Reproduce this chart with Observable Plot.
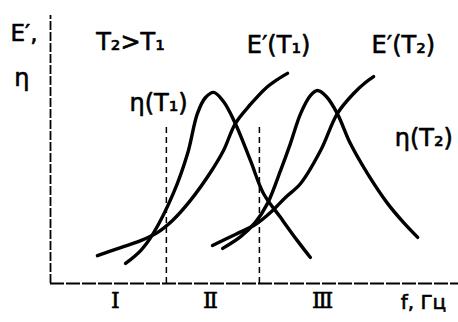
<!DOCTYPE html>
<html>
<head>
<meta charset="utf-8">
<script src="https://cdn.jsdelivr.net/npm/d3@7"></script>
<script src="https://cdn.jsdelivr.net/npm/@observablehq/plot@0.6"></script>
<style>
  html, body { margin: 0; padding: 0; background: #fff; }
  #chart { width: 458px; height: 322px; }
</style>
</head>
<body>
<div id="chart"></div>
<script>
// Curves (arbitrary units: x = frequency, y = E' / η)
const etaT1X = [18.4, 22.1, 25.2, 30.1, 33.6, 36.0, 38.0, 40.0, 42.4, 45.3, 49.0, 52.2, 56.4, 60.5, 63.7];
const etaT1Y = [7.5, 12.3, 18.7, 33.6, 48.5, 63.4, 69.4, 71.3, 67.9, 59.7, 45.9, 33.6, 24.6, 16.0, 9.7];

const ET1X = [11.5, 17.2, 22.1, 26.2, 29.9, 34.3, 39.2, 42.4, 45.3, 49.0, 52.7, 55.6, 58.1];
const ET1Y = [10.4, 13.4, 16.0, 19.0, 23.5, 31.0, 41.4, 49.6, 59.7, 66.8, 72.8, 76.1, 78.4];

const etaT2X = [42.2, 46.6, 50.2, 53.2, 56.4, 58.8, 61.3, 63.7, 65.4, 67.6, 70.3, 73.5, 77.7, 82.6, 86.5, 90.0];
const etaT2Y = [13.1, 17.5, 22.8, 29.9, 42.2, 52.2, 63.4, 70.1, 72.0, 69.8, 63.4, 52.2, 41.0, 29.9, 22.8, 17.2];

const ET2X = [39.7, 45.3, 50.2, 53.9, 57.6, 61.3, 66.2, 70.3, 74.3, 77.2, 79.2];
const ET2Y = [14.2, 18.3, 22.0, 26.5, 32.1, 37.3, 49.6, 63.4, 70.9, 75.0, 77.2];

// Frequency regions on the x axis
const tickPos = [15.9, 39.2, 66.7];
const tickLabels = ["Ⅰ", "Ⅱ", "Ⅲ"];
const dashedX = [28.4, 51.2];
const dashedTop = 58.2;

// Curve labels
const labelText = ["T₂>T₁", "η(T₁)", "E′(T₁)", "E′(T₂)", "η(T₂)"];
const labelX = [19.6, 26.5, 55.9, 86.5, 91.5];
const labelY = [90.0, 67.2, 88.8, 88.8, 54.1];

const toPts = (xs, ys) => xs.map((x, i) => ({x, y: ys[i]}));
const labels = labelText.map((t, i) => ({t, x: labelX[i], y: labelY[i]}));
const ticks = tickPos.map((x, i) => ({x, t: tickLabels[i]}));

const font = "DejaVu Sans";
const lineOpts = {x: "x", y: "y", stroke: "black", strokeWidth: 3.4, curve: "catmull-rom"};

const chart = Plot.plot({
  width: 458,
  height: 322,
  marginLeft: 50,
  marginRight: 0,
  marginTop: 15,
  marginBottom: 39,
  style: {fontFamily: font, background: "white"},
  x: {domain: [0, 100], axis: null},
  y: {domain: [0, 100], axis: null},
  marks: [
    Plot.ruleX([0], {y1: 0, y2: 100, stroke: "black", strokeWidth: 1.8, strokeDasharray: "9,2"}),
    Plot.ruleY([0], {x1: 0, x2: 100, stroke: "black", strokeWidth: 2.2, strokeDasharray: "14,2"}),
    Plot.ruleX(dashedX, {y1: 0, y2: dashedTop, stroke: "black", strokeWidth: 1.5, strokeDasharray: "6,4"}),
    Plot.line(toPts(etaT1X, etaT1Y), lineOpts),
    Plot.line(toPts(ET1X, ET1Y), lineOpts),
    Plot.line(toPts(etaT2X, etaT2Y), lineOpts),
    Plot.line(toPts(ET2X, ET2Y), lineOpts),
    Plot.text(labels, {x: "x", y: "y", text: "t", fontSize: 24, fill: "black", stroke: "black", strokeWidth: 0.6, fontFamily: font}),
    Plot.text(ticks, {x: "x", y: -6.5, text: "t", fontSize: 22, fill: "black", stroke: "black", strokeWidth: 0.6, fontFamily: "DejaVu Serif"}),
    Plot.text(["f, Гц"], {x: 91.4, y: -7.0, text: d => d, fontSize: 20, fill: "black", stroke: "black", strokeWidth: 0.6, fontFamily: font}),
    Plot.text(["E′,"], {x: -6.5, y: 93.3, text: d => d, fontSize: 23, fill: "black", stroke: "black", strokeWidth: 0.6, fontFamily: font}),
    Plot.text(["η"], {x: -7.0, y: 76.5, text: d => d, fontSize: 24, fill: "black", stroke: "black", strokeWidth: 0.6, fontFamily: font})
  ]
});
document.getElementById("chart").appendChild(chart);
</script>
</body>
</html>
